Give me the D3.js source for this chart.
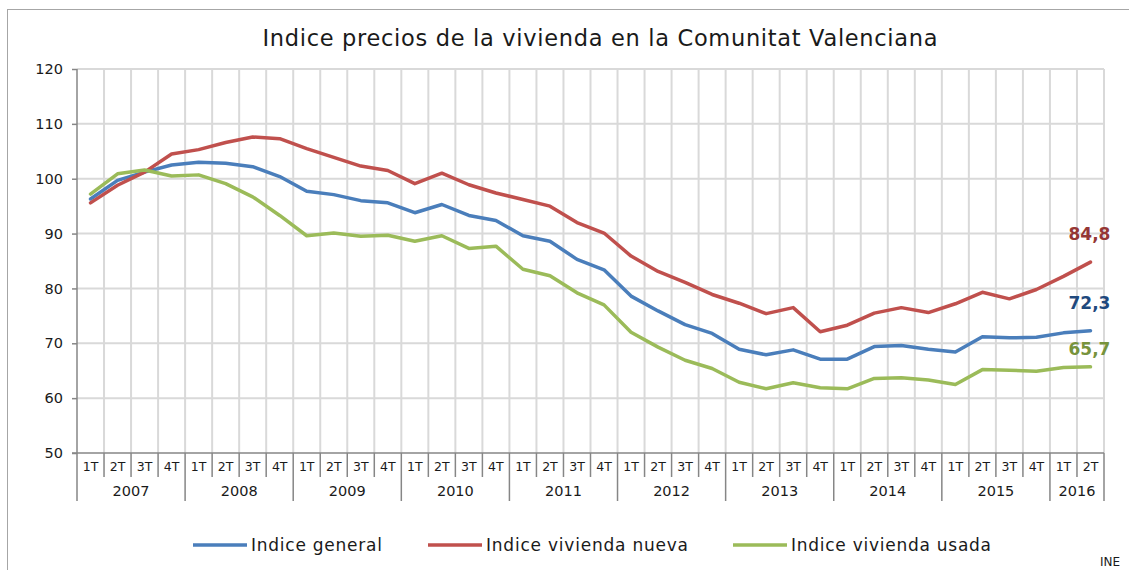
<!DOCTYPE html>
<html>
<head>
<meta charset="utf-8">
<script src="https://cdn.jsdelivr.net/npm/d3@7"></script>
<style>
  body { margin: 0; background: #fff; }
  svg { display: block; font-family: "DejaVu Sans", "Lato", sans-serif; }
</style>
</head>
<body>
<div id="chart"></div>
<script>
'use strict';

// chart data
const years = ["2007", "2008", "2009", "2010", "2011", "2012", "2013", "2014", "2015", "2016"];
const quarterNames = ["1T", "2T", "3T", "4T"];
const yTicks = [50, 60, 70, 80, 90, 100, 110, 120];

const indiceGeneral = [96.3, 99.7, 101.2, 102.5, 103.0, 102.8, 102.2, 100.4, 97.7, 97.1,
  96.0, 95.6, 93.8, 95.3, 93.3, 92.4, 89.6, 88.6, 85.3, 83.4,
  78.6, 75.9, 73.4, 71.8, 68.9, 67.9, 68.8, 67.1, 67.1, 69.4,
  69.6, 68.9, 68.4, 71.2, 71.0, 71.1, 71.9, 72.3];
const indiceNueva = [95.6, 98.8, 101.2, 104.5, 105.3, 106.6, 107.6, 107.3, 105.5, 103.9,
  102.3, 101.5, 99.1, 101.0, 98.9, 97.4, 96.2, 95.0, 92.0, 90.1,
  85.9, 83.1, 81.1, 78.9, 77.3, 75.4, 76.5, 72.1, 73.3, 75.5,
  76.5, 75.6, 77.2, 79.3, 78.1, 79.8, 82.2, 84.8];
const indiceUsada = [97.2, 100.9, 101.6, 100.5, 100.7, 99.1, 96.7, 93.3, 89.6, 90.1,
  89.5, 89.7, 88.6, 89.6, 87.3, 87.7, 83.5, 82.3, 79.2, 77.0,
  72.0, 69.3, 66.9, 65.4, 62.9, 61.7, 62.8, 61.9, 61.7, 63.6,
  63.7, 63.3, 62.5, 65.2, 65.1, 64.9, 65.6, 65.7];

const seriesNames = ["Indice general", "Indice vivienda nueva", "Indice vivienda usada"];
const seriesColors = ["#4a7ebb", "#c0504d", "#9bbb59"];
const labelColors = ["#1f497d", "#953735", "#77933c"];
const lastLabels = ["72,3", "84,8", "65,7"];

(function() {

  // build the list of quarters (2007 1T .. 2016 2T)
  let quarters = [];
  years.forEach(function(y) {
    quarterNames.forEach(function(q) {
      if (quarters.length < indiceGeneral.length) quarters.push({ year: y, q: q, key: y + q });
    });
  });

  const W = 1129, H = 570;
  const plotLeft = 77, plotRight = 1104, plotTop = 69, plotBottom = 453;

  let svg = d3.select('#chart').append('svg')
    .attr('width', W)
    .attr('height', H);

  // outer frame
  svg.append('rect')
    .attr('x', 7.5).attr('y', 9.5)
    .attr('width', W + 10).attr('height', H + 10)
    .attr('fill', 'none')
    .attr('stroke', '#a6a6a6');

  // title
  svg.append('text')
    .attr('x', 600)
    .attr('y', 46)
    .attr('text-anchor', 'middle')
    .attr('textLength', 675)
    .attr('lengthAdjust', 'spacing')
    .style('font-size', '22.5px')
    .style('fill', '#1a1a1a')
    .text("Indice precios de la vivienda en la Comunitat Valenciana");

  // scales
  let xScale = d3.scaleBand()
    .domain(quarters.map(d => d.key))
    .range([plotLeft, plotRight])
    .padding(0);

  let yScale = d3.scaleLinear()
    .domain([50, 120])
    .range([plotBottom, plotTop]);

  let xMid = function(i) { return xScale(quarters[i].key) + xScale.bandwidth() / 2; };

  // horizontal gridlines
  svg.append('g')
    .selectAll('line')
    .data(yTicks.filter(v => v > 50))
    .enter()
    .append('line')
      .attr('x1', plotLeft).attr('x2', plotRight)
      .attr('y1', d => yScale(d)).attr('y2', d => yScale(d))
      .attr('stroke', '#d9d9d9')
      .attr('stroke-width', 2);

  // vertical gridlines at quarter boundaries
  svg.append('g')
    .selectAll('line')
    .data(quarters.slice(1).map(d => xScale(d.key)).concat([plotRight]))
    .enter()
    .append('line')
      .attr('x1', d => d).attr('x2', d => d)
      .attr('y1', plotTop).attr('y2', plotBottom)
      .attr('stroke', '#d9d9d9')
      .attr('stroke-width', 2);

  // y axis
  let yAxis = d3.axisLeft(yScale)
    .tickValues(yTicks)
    .tickSize(5)
    .tickPadding(9)
    .tickFormat(d3.format('d'));
  let gy = svg.append('g')
    .attr('transform', 'translate(' + plotLeft + ',0)')
    .call(yAxis);
  gy.select('.domain').attr('stroke', '#868686').attr('stroke-width', 1.5)
    .attr('d', 'M0,' + plotTop + 'V' + plotBottom);
  gy.selectAll('.tick line').attr('stroke', '#868686').attr('stroke-width', 1.5);
  gy.selectAll('.tick text')
    .style('font-size', '14.5px')
    .style('font-family', '"DejaVu Sans", sans-serif')
    .style('fill', '#1a1a1a');

  // x axis line
  svg.append('line')
    .attr('x1', plotLeft - 5).attr('x2', plotRight)
    .attr('y1', plotBottom).attr('y2', plotBottom)
    .attr('stroke', '#868686')
    .attr('stroke-width', 1.5);

  // quarter separators and labels
  let xg = svg.append('g');
  xg.selectAll('.qsep')
    .data(quarters.map(d => xScale(d.key)).concat([plotRight]))
    .enter()
    .append('line')
      .attr('x1', d => d).attr('x2', d => d)
      .attr('y1', plotBottom).attr('y2', function(d, i) {
        // year boundaries go lower
        return (i % 4 === 0 || i === quarters.length) ? 501 : 477;
      })
      .attr('stroke', '#868686')
      .attr('stroke-width', 1.5);

  xg.selectAll('.qlab')
    .data(quarters)
    .enter()
    .append('text')
      .attr('x', (d, i) => xMid(i))
      .attr('y', 471)
      .attr('text-anchor', 'middle')
      .style('font-size', '12.5px')
      .style('fill', '#1a1a1a')
      .text(d => d.q);

  // year labels centred under their quarters
  xg.selectAll('.ylab')
    .data(years)
    .enter()
    .append('text')
      .attr('x', function(y) {
        let qs = quarters.filter(d => d.year === y);
        let x0 = xScale(qs[0].key);
        let x1 = xScale(qs[qs.length - 1].key) + xScale.bandwidth();
        return (x0 + x1) / 2;
      })
      .attr('y', 496)
      .attr('text-anchor', 'middle')
      .style('font-size', '14.5px')
      .style('fill', '#1a1a1a')
      .text(d => d);

  // lines
  let allSeries = [indiceGeneral, indiceNueva, indiceUsada];
  let line = d3.line()
    .x((d, i) => xMid(i))
    .y(d => yScale(d));

  allSeries.forEach(function(s, k) {
    svg.append('path')
      .datum(s)
      .attr('fill', 'none')
      .attr('stroke', seriesColors[k])
      .attr('stroke-width', 3.5)
      .attr('stroke-linejoin', 'round')
      .attr('stroke-linecap', 'round')
      .attr('d', line);
  });

  // end labels
  let labelOffsets = [-22, -22, -12];
  allSeries.forEach(function(s, k) {
    let n = s.length - 1;
    svg.append('text')
      .attr('x', xMid(n) - 1)
      .attr('y', yScale(s[n]) + labelOffsets[k])
      .attr('text-anchor', 'middle')
      .style('font-size', '17px')
      .style('font-weight', 'bold')
      .style('fill', labelColors[k])
      .text(lastLabels[k]);
  });

  // legend
  let legendX = [193, 428, 733];
  let legendW = [131, 202, 200];
  seriesNames.forEach(function(name, k) {
    svg.append('line')
      .attr('x1', legendX[k]).attr('x2', legendX[k] + 54)
      .attr('y1', 545).attr('y2', 545)
      .attr('stroke', seriesColors[k])
      .attr('stroke-width', 3.5);
    svg.append('text')
      .attr('x', legendX[k] + 58)
      .attr('y', 551)
      .attr('textLength', legendW[k])
      .attr('lengthAdjust', 'spacing')
      .style('font-size', '17px')
      .style('fill', '#1a1a1a')
      .text(name);
  });

  // source
  svg.append('text')
    .attr('x', 1120)
    .attr('y', 566)
    .attr('text-anchor', 'end')
    .style('font-size', '12px')
    .style('fill', '#1a1a1a')
    .text('INE');

})();
</script>
</body>
</html>
